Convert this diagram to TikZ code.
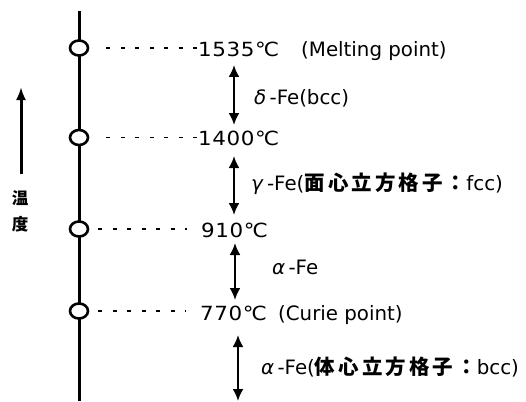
\documentclass[tikz,border=0pt]{standalone}
\usepackage{fontspec}
\setmainfont{DejaVu Sans}
\newfontfamily\cjk[LetterSpace=15]{Noto Sans CJK JP}
\newfontfamily\cjkplain{Noto Sans CJK JP}
\usetikzlibrary{arrows.meta,shapes.geometric}
\newcommand{\degc}{°\kern-2pt C}
\tikzset{
  axisline/.style={line width=3pt},
  pt/.style={draw, ellipse, line width=2.6pt, fill=white, minimum width=18pt, minimum height=15pt, inner sep=0pt},
  guide/.style={line width=1.8pt, dash pattern=on 4pt off 10.5pt},
  temp/.style={anchor=base west, inner sep=0pt, font=\fontsize{19.5}{22}\selectfont\addfontfeatures{FakeStretch=1.1,LetterSpace=3}},
  phase/.style={anchor=base west, inner sep=0pt, font=\fontsize{19.8}{22}\selectfont},
  dbl/.style={line width=2.2pt, {Latex[length=12pt,width=11pt]}-{Latex[length=12pt,width=11pt]}},
  up/.style={line width=3pt, -{Latex[length=13pt,width=10pt]}},
  kanji/.style={inner sep=0pt, font=\cjkplain\fontsize{16.5}{17}\selectfont\bfseries}
}
\newcommand{\jp}[1]{{\cjk\fontsize{20.5}{22}\selectfont\bfseries #1}}
\begin{document}
\begin{tikzpicture}[x=1pt,y=-1pt]
\useasboundingbox (0,0) rectangle (526,401);
% main axis
\coordinate (top) at (79,11);
\coordinate (bot) at (79,401);
\draw[axisline] (top) -- (bot);
\node[pt] (c1) at (79,48) {};
\node[pt] (c2) at (79,137.5) {};
\node[pt] (c3) at (79,229) {};
\node[pt] (c4) at (79,311) {};
% temperature labels
\node[temp] (t1) at (198,57) {1535\degc};
\node[phase] (m1) at (301,57) {(Melting point)};
\node[temp] (t2) at (198,145) {1400\degc};
\node[temp] (t3) at (201,237) {910\degc};
\node[temp] (t4) at (200,320) {770\degc};
\node[phase] (m4) at (278,320) {(Curie point)};
% dashed guides
\draw[guide] (c1.east) ++(17,0) coordinate (g1) (g1) -- (t1.west |- c1);
\draw[guide] (c2.east) ++(17,0) coordinate (g2) (g2) -- (t2.west |- c2);
\draw[guide] (c3.east) ++(9,0) coordinate (g3) (g3) -- ([xshift=-14pt]t3.west |- c3);
\draw[guide] (c4.east) ++(9,0) coordinate (g4) (g4) -- ([xshift=-14pt]t4.west |- c4);
% phase ranges
\coordinate (a1t) at (234,65);  \coordinate (a1b) at (234,125);
\coordinate (a2t) at (234,156); \coordinate (a2b) at (234,215);
\coordinate (a3t) at (235,243); \coordinate (a3b) at (235,300);
\coordinate (a4t) at (238,335); \coordinate (a4b) at (238,401);
\draw[dbl] (a1t) -- (a1b);
\draw[dbl] (a2t) -- (a2b);
\draw[dbl] (a3t) -- (a3b);
\draw[dbl] (a4t) -- (a4b);
\node[phase] (p1) at (254,104) {\textit{δ}\,-Fe(bcc)};
\node[phase] (p2) at (251,190) {\textit{γ}\,-Fe(\jp{面心立方格子：}fcc)};
\node[phase] (p3) at (272,274) {\textit{α}\,-Fe};
\node[phase] (p4) at (261,374) {\textit{α}\,-Fe(\jp{体心立方格子：}bcc)};
% temperature axis
\coordinate (l1) at (21,174);
\coordinate (l2) at (21,87);
\draw[up] (l1) -- (l2);
\node[kanji] (k1) at (20,198) {温};
\node[kanji] (k2) at (20,224) {度};
\end{tikzpicture}
\end{document}
